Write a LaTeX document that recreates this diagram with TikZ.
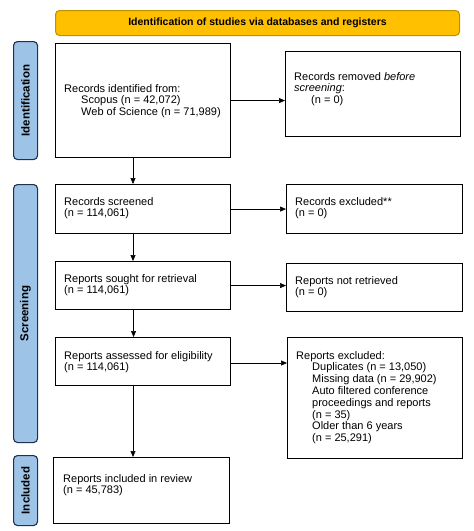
\documentclass[tikz,border=0pt]{standalone}
\usepackage{fontspec}
\setmainfont{Liberation Sans}
\usetikzlibrary{arrows.meta,calc}
\definecolor{banfill}{HTML}{FFC000}
\definecolor{bandraw}{HTML}{C09000}
\definecolor{sidefill}{HTML}{9DC3E6}
\definecolor{sidedraw}{HTML}{1F3050}
\begin{document}
\begin{tikzpicture}[x=1pt,y=1pt,
  box/.style={draw=black, line width=1.1pt, fill=white, anchor=north west, inner sep=0pt},
  txt/.style={anchor=north west, align=left, inner sep=0pt, font=\fontsize{11}{11.8}\selectfont},
  side/.style={draw=sidedraw, fill=sidefill, line width=1.1pt, rounded corners=4pt, anchor=north west, inner sep=0pt, minimum width=24pt},
  sidetxt/.style={rotate=90, font=\bfseries\fontsize{11.5}{12}\selectfont},
  arr/.style={-{Triangle[length=6pt,width=5pt]}, line width=0.7pt, black}]
\useasboundingbox (0,0) rectangle (474,-531);
\fill[white] (0,0) rectangle (474,-531);
% banner
\node[draw=bandraw, fill=banfill, line width=1pt, rounded corners=4pt, anchor=north west, inner sep=0pt, minimum width=404pt, minimum height=25pt, font=\bfseries\fontsize{10.5}{12}\selectfont] (ban) at (55,-10) {Identification of studies via databases and registers};
% side labels
\node[side, minimum height=118pt] (sid) at (13,-41) {};
\node[sidetxt] (sidt) at (sid.center) {Identification};
\node[side, minimum height=258pt] (ssc) at (13,-184) {};
\node[sidetxt] (ssct) at (ssc.center) {Screening};
\node[side, minimum height=70pt] (sin) at (13,-455) {};
\node[sidetxt] (sint) at (sin.center) {Included};
% boxes
\node[box, minimum width=175pt, minimum height=114pt] (b1) at (55,-43) {};
\node[txt] (t1) at (64,-84) {Records identified from:\\\hspace*{17pt}Scopus (n = 42,072)\\\hspace*{17pt}Web of Science (n = 71,989)};
\node[box, minimum width=175pt, minimum height=85pt] (r1) at (285,-51) {};
\node[txt] (rt1) at (294,-72) {Records removed \emph{before}\\\emph{screening}:\\\hspace*{17pt}(n = 0)};
\node[box, minimum width=175pt, minimum height=49pt] (b2) at (55,-184) {};
\node[txt] (t2) at (64,-197) {Records screened\\(n = 114,061)};
\node[box, minimum width=176pt, minimum height=49pt] (r2) at (286,-184) {};
\node[txt] (rt2) at (295,-197) {Records excluded**\\(n = 0)};
\node[box, minimum width=175pt, minimum height=48pt] (b3) at (55,-261) {};
\node[txt] (t3) at (64,-274) {Reports sought for retrieval\\(n = 114,061)};
\node[box, minimum width=176pt, minimum height=48pt] (r3) at (286,-263) {};
\node[txt] (rt3) at (295,-276) {Reports not retrieved\\(n = 0)};
\node[box, minimum width=175pt, minimum height=48pt] (b4) at (55,-337) {};
\node[txt] (t4) at (64,-351) {Reports assessed for eligibility\\(n = 114,061)};
\node[box, minimum width=175pt, minimum height=121pt] (r4) at (287,-337) {};
\node[txt] (rt4) at (296,-351) {Reports excluded:\\\hspace*{16pt}Duplicates (n = 13,050)\\\hspace*{16pt}Missing data (n = 29,902)\\\hspace*{16pt}Auto filtered conference\\\hspace*{16pt}proceedings and reports\\\hspace*{16pt}(n = 35)\\\hspace*{16pt}Older than 6 years\\\hspace*{16pt}(n = 25,291)};
\node[box, minimum width=176pt, minimum height=66pt] (b5) at (53,-457) {};
\node[txt] (t5) at (63,-474) {Reports included in review\\(n = 45,783)};
% arrows
\draw[arr] (b1.east) -- (b1.east -| r1.west);
\draw[arr] (b1.south -| 133,0) -- (b2.north -| 133,0);
\draw[arr] (b2.east) -- (b2.east -| r2.west);
\draw[arr] (b2.south -| 133,0) -- (b3.north -| 133,0);
\draw[arr] (b3.east) -- (b3.east -| r3.west);
\draw[arr] (b4.south -| 133,0) -- (b5.north -| 133,0);
\draw[arr] ($(b3.south)+(-9.5,0)$) -- ($(b4.north)+(-9.5,0)$);
\draw[arr] ($(b4.north east)+(0,-26)$) -- ($(r4.north west)+(0,-26)$);
\end{tikzpicture}
\end{document}
